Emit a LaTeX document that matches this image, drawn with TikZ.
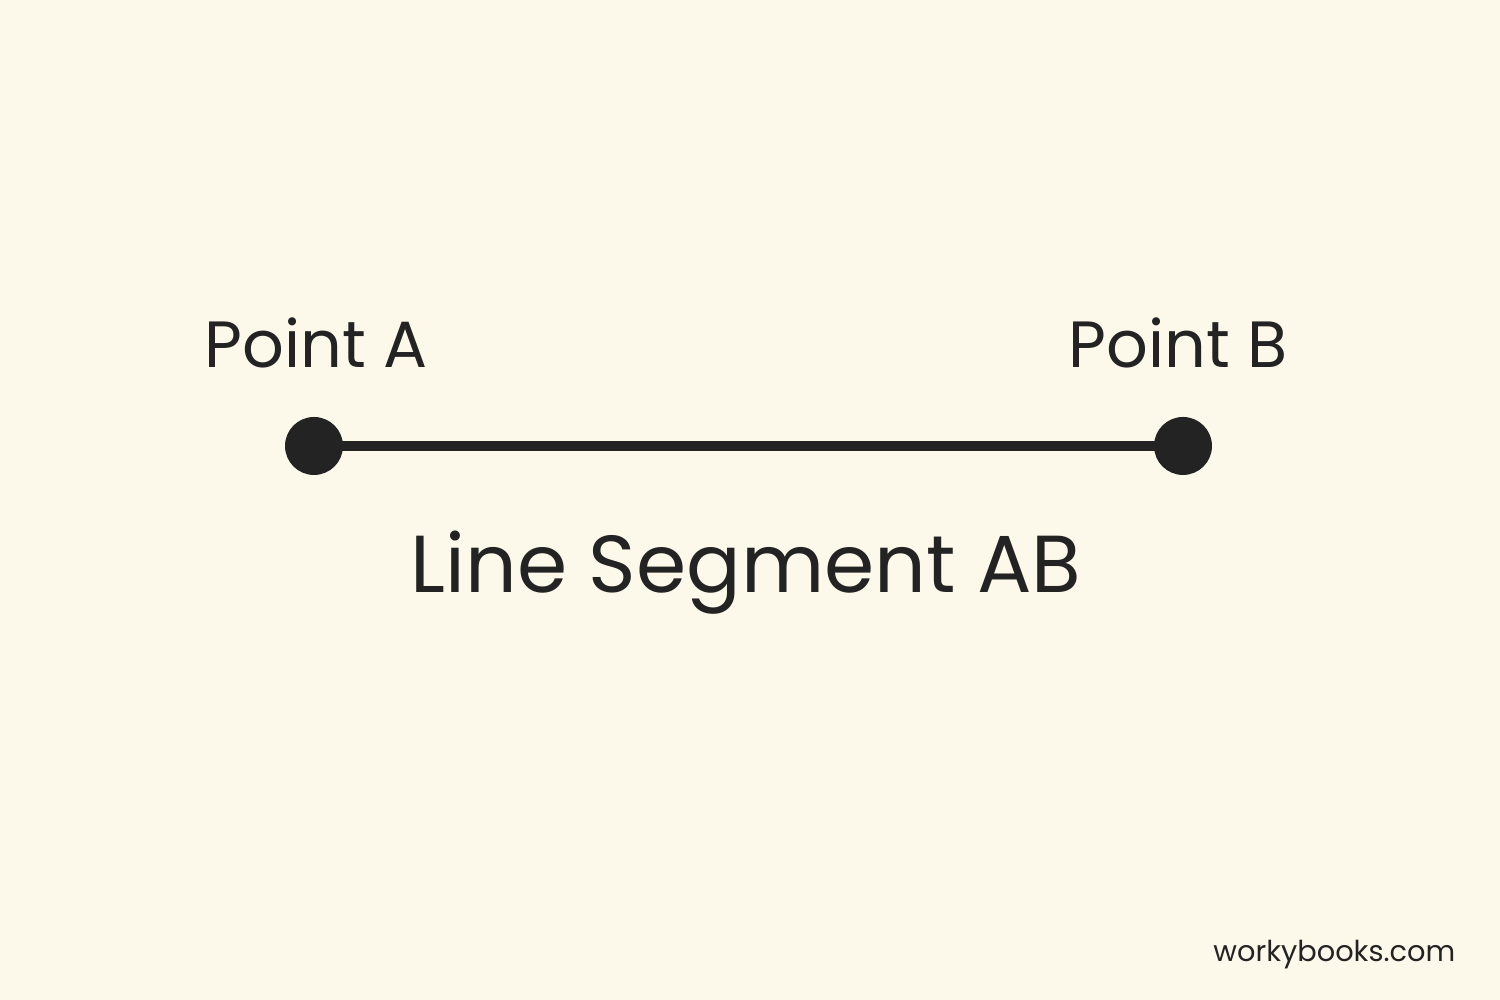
\documentclass[tikz,border=0pt]{standalone}
\usepackage{fontspec}
\setmainfont{Poppins}
\usepackage{xcolor}
\definecolor{paper}{RGB}{253, 249, 234}
\definecolor{ink}{RGB}{35, 35, 35}

\begin{document}
\begin{tikzpicture}[
  dot/.style={circle, fill=ink, inner sep=0pt, minimum size=0.58cm},
  label/.style={text=ink, anchor=base, inner sep=0pt}
]
  % Background
  \fill[paper] (0,0) rectangle (15,10);
  \useasboundingbox (0,0) rectangle (15,10);
  % Endpoints
  \node[dot] (ptA) at (3.14,5.54) {};
  \node[dot] (ptB) at (11.83,5.54) {};
  % Segment
  \draw[ink, line width=3.1pt] (ptA.center) -- (ptB.center);
  % Labels
  \node[label, font=\fontsize{18.6}{22}\selectfont] (labA) at (3.16,6.32) {Point A};
  \node[label, font=\fontsize{18.6}{22}\selectfont] (labB) at (11.78,6.32) {Point B};
  \node[label, font=\fontsize{23}{28}\selectfont] (title) at (7.46,4.07) {Line Segment AB};
  % Site mark
  \node[label, anchor=base east, font=\fontsize{8.2}{10}\selectfont] (site) at (14.56,0.38) {workybooks.com};
\end{tikzpicture}
\end{document}
